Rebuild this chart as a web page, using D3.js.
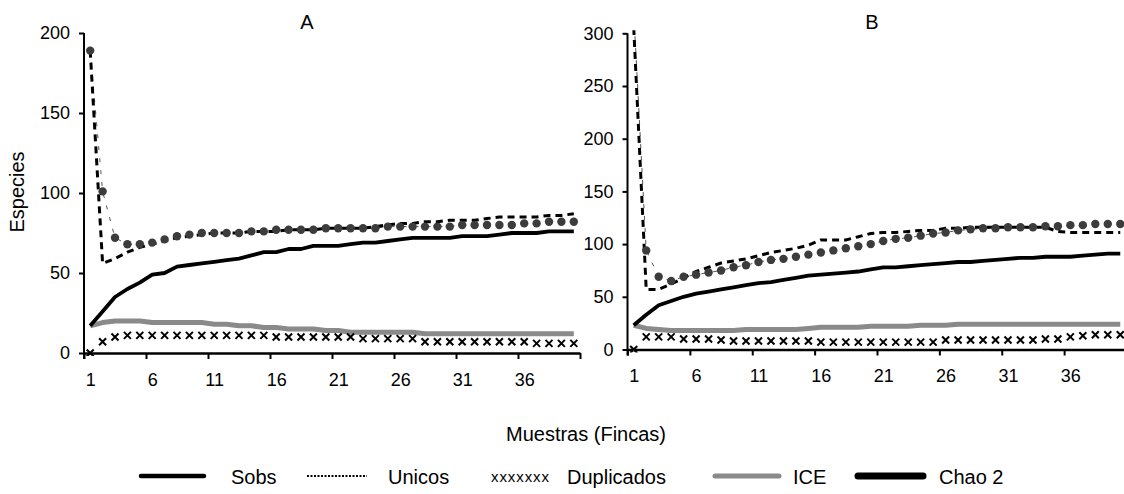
<!DOCTYPE html>
<html>
<head>
<meta charset="utf-8">
<script src="https://cdn.jsdelivr.net/npm/d3@7"></script>
<style>
  html, body { margin: 0; padding: 0; background: #fff; }
  svg { display: block; font-family: Arial, "Liberation Sans", sans-serif; }
</style>
</head>
<body>
<svg id="chart" width="1124" height="494"></svg>
<script>
// ---------- data ----------
const samples = d3.range(1, 41);
const xTickLabels = ["1", "6", "11", "16", "21", "26", "31", "36"];
const yTicksA = [0, 50, 100, 150, 200];
const yTicksB = [0, 50, 100, 150, 200, 250, 300];

const sobsA = [17,26,35,40,44,49,50,54,55,56,57,58,59,61,63,63,65,65,67,67,67,68,69,69,70,71,72,72,72,72,73,73,73,74,75,75,75,76,76,76];
const unicosA = [189,56,59,63,66,68,70,72,73,74,75,75,75,76,76,76,77,77,77,78,78,78,78,79,80,81,81,82,82,83,83,83,84,85,85,85,85,86,86,87];
const duplicadosA = [0,7,10,11,11,11,11,11,11,11,11,11,11,11,11,10,10,10,10,10,10,10,9,9,9,9,9,7,7,7,7,7,7,7,7,7,6,6,6,6];
const iceA = [17,19,20,20,20,19,19,19,19,19,18,18,17,17,16,16,15,15,15,14,14,13,13,13,13,13,13,12,12,12,12,12,12,12,12,12,12,12,12,12];
const chao2A = [189,101,72,68,68,69,71,73,74,75,75,75,75,76,76,77,77,77,77,78,78,78,78,78,79,79,79,79,79,79,80,80,80,80,80,81,81,82,82,82];

const sobsB = [23,33,42,46,50,53,55,57,59,61,63,64,66,68,70,71,72,73,74,76,78,78,79,80,81,82,83,83,84,85,86,87,87,88,88,88,89,90,91,91];
const unicosB = [305,57,57,62,68,74,78,82,84,86,89,92,94,96,99,104,104,104,107,110,111,111,112,113,113,115,115,116,116,116,116,116,116,116,112,111,111,111,111,111];
const duplicadosB = [0,12,12,12,10,10,10,9,8,8,8,8,8,8,8,7,7,7,7,7,7,7,7,7,7,9,9,9,9,9,9,9,9,10,10,12,13,14,14,14];
const iceB = [23,20,19,18,18,18,18,18,18,19,19,19,19,19,20,21,21,21,21,22,22,22,22,23,23,23,24,24,24,24,24,24,24,24,24,24,24,24,24,24];
const chao2B = [320,94,69,65,69,71,73,75,78,80,83,85,86,88,90,92,94,96,98,100,103,105,106,108,110,111,113,114,115,115,116,116,116,117,117,118,118,119,119,119];

const legendNames = ["Sobs", "Unicos", "Duplicados", "ICE", "Chao 2"];

// ---------- drawing ----------
const svg = d3.select("#chart");
const FONT = 'Arial, "Liberation Sans", sans-serif';

function panel(cfg) {
  const x = d3.scaleLinear().domain([0, 40]).range([cfg.x0, cfg.x1]);
  const y = d3.scaleLinear().domain([0, cfg.yMax]).range([cfg.yBottom, cfg.yTop]);
  const g = svg.append("g");
  const clipId = "clip" + cfg.name;
  svg.append("clipPath").attr("id", clipId)
    .append("rect").attr("x", cfg.x0).attr("y", cfg.yTop - 3)
    .attr("width", cfg.x1 - cfg.x0 + 2).attr("height", cfg.yBottom - cfg.yTop + 6);

  const px = (d, i) => x(i + 0.5);
  const line = d3.line().x(px).y(d => y(d));
  const plot = g.append("g").attr("clip-path", `url(#${clipId})`);

  // ICE
  plot.append("path").datum(cfg.ice).attr("d", line)
    .attr("fill", "none").attr("stroke", "#8a8a8a").attr("stroke-width", 5)
    .attr("stroke-linejoin", "round");
  // Sobs
  plot.append("path").datum(cfg.sobs).attr("d", line)
    .attr("fill", "none").attr("stroke", "#000").attr("stroke-width", 3.8)
    .attr("stroke-linejoin", "round");
  // Chao 2 thin connecting line + round markers
  plot.append("path").datum(cfg.chao2).attr("d", line)
    .attr("fill", "none").attr("stroke", "#555").attr("stroke-width", 1)
    .attr("stroke-dasharray", "4 8");
  // Unicos
  plot.append("path").datum(cfg.unicos).attr("d", line)
    .attr("fill", "none").attr("stroke", "#000").attr("stroke-width", 3)
    .attr("stroke-dasharray", "7 5");
  plot.selectAll("circle.chao").data(cfg.chao2).join("circle").attr("class", "chao")
    .attr("cx", px).attr("cy", d => y(d)).attr("r", 4.2).attr("fill", "#3c3c3c");
  // Duplicados markers
  plot.selectAll("path.dup").data(cfg.dup).join("path").attr("class", "dup")
    .attr("d", (d, i) => {
      const cx = px(d, i), cy = y(d), s = 3.5;
      return `M${cx - s},${cy - s}L${cx + s},${cy + s}M${cx - s},${cy + s}L${cx + s},${cy - s}`;
    })
    .attr("stroke", "#000").attr("stroke-width", 2).attr("fill", "none");

  // y axis
  const yAxis = g.append("g").attr("transform", `translate(${cfg.x0},0)`)
    .call(d3.axisLeft(y).tickValues(cfg.yTicks).tickSize(5).tickPadding(9).tickSizeOuter(0));
  yAxis.select(".domain").attr("stroke", "#000").attr("stroke-width", 2)
    .attr("d", `M0,${cfg.yTop}V${cfg.yBottom + 6}`);
  yAxis.selectAll(".tick line").attr("stroke", "#000").attr("stroke-width", 2);
  yAxis.selectAll(".tick text").attr("font-size", 18).attr("font-family", FONT).attr("fill", "#000");

  // x axis ticks at category boundaries
  const xAxis = g.append("g").attr("transform", `translate(0,${cfg.yBottom})`)
    .call(d3.axisBottom(x).tickValues(d3.range(0, 41, 5)).tickSize(6).tickFormat("").tickSizeOuter(0));
  xAxis.select(".domain").attr("stroke", "#000").attr("stroke-width", 2.5);
  xAxis.selectAll(".tick line").attr("stroke", "#000").attr("stroke-width", 2);

  // x tick labels at category centres
  const xLab = g.append("g").attr("transform", `translate(0,${cfg.yBottom})`)
    .call(d3.axisBottom(x).tickValues(xTickLabels.map(v => +v - 0.5))
      .tickSize(0).tickPadding(20).tickFormat((d, i) => xTickLabels[i]));
  xLab.select(".domain").remove();
  xLab.selectAll(".tick text").attr("font-size", 18).attr("font-family", FONT).attr("fill", "#000");

  // panel title
  g.append("text").attr("x", cfg.titleX).attr("y", 29).attr("text-anchor", "middle")
    .attr("font-size", 20).attr("fill", "#000").text(cfg.name);
}

panel({ name: "A", x0: 84, x1: 580, yTop: 33, yBottom: 353, yMax: 200, yTicks: yTicksA,
  sobs: sobsA, unicos: unicosA, dup: duplicadosA, ice: iceA, chao2: chao2A, titleX: 307 });
panel({ name: "B", x0: 627.5, x1: 1126.5, yTop: 33.3, yBottom: 349.5, yMax: 300, yTicks: yTicksB,
  sobs: sobsB, unicos: unicosB, dup: duplicadosB, ice: iceB, chao2: chao2B, titleX: 872 });

// axis titles
svg.append("text").attr("transform", "translate(24,192) rotate(-90)")
  .attr("text-anchor", "middle").attr("font-size", 20).attr("fill", "#000").text("Especies");
svg.append("text").attr("x", 586).attr("y", 441).attr("text-anchor", "middle")
  .attr("font-size", 20).attr("fill", "#000").text("Muestras (Fincas)");

// legend
const leg = svg.append("g");
const ly = 482;
const items = [
  { name: legendNames[0], x1: 141, x2: 204, tx: 231, kind: "line", color: "#000", w: 4.5 },
  { name: legendNames[1], x1: 307, x2: 367, tx: 388, kind: "dot", color: "#000", w: 2 },
  { name: legendNames[2], x1: 491, x2: 549, tx: 567, kind: "x" },
  { name: legendNames[3], x1: 715, x2: 779, tx: 793, kind: "line", color: "#8a8a8a", w: 5 },
  { name: legendNames[4], x1: 858, x2: 923, tx: 939, kind: "line", color: "#000", w: 7 }
];
items.forEach(it => {
  if (it.kind === "line") {
    leg.append("line").attr("x1", it.x1).attr("x2", it.x2).attr("y1", ly - 6).attr("y2", ly - 6)
      .attr("stroke", it.color).attr("stroke-width", it.w).attr("stroke-linecap", "round");
  } else if (it.kind === "dot") {
    leg.append("line").attr("x1", it.x1).attr("x2", it.x2).attr("y1", ly - 6).attr("y2", ly - 6)
      .attr("stroke", it.color).attr("stroke-width", it.w).attr("stroke-dasharray", "2 1.5");
  } else {
    leg.append("text").attr("x", it.x1).attr("y", ly).attr("font-size", 15)
      .attr("textLength", it.x2 - it.x1).attr("fill", "#000").text("xxxxxxx");
  }
  leg.append("text").attr("x", it.tx).attr("y", ly + 2).attr("font-size", 20)
    .attr("fill", "#000").text(it.name);
});
</script>
</body>
</html>
